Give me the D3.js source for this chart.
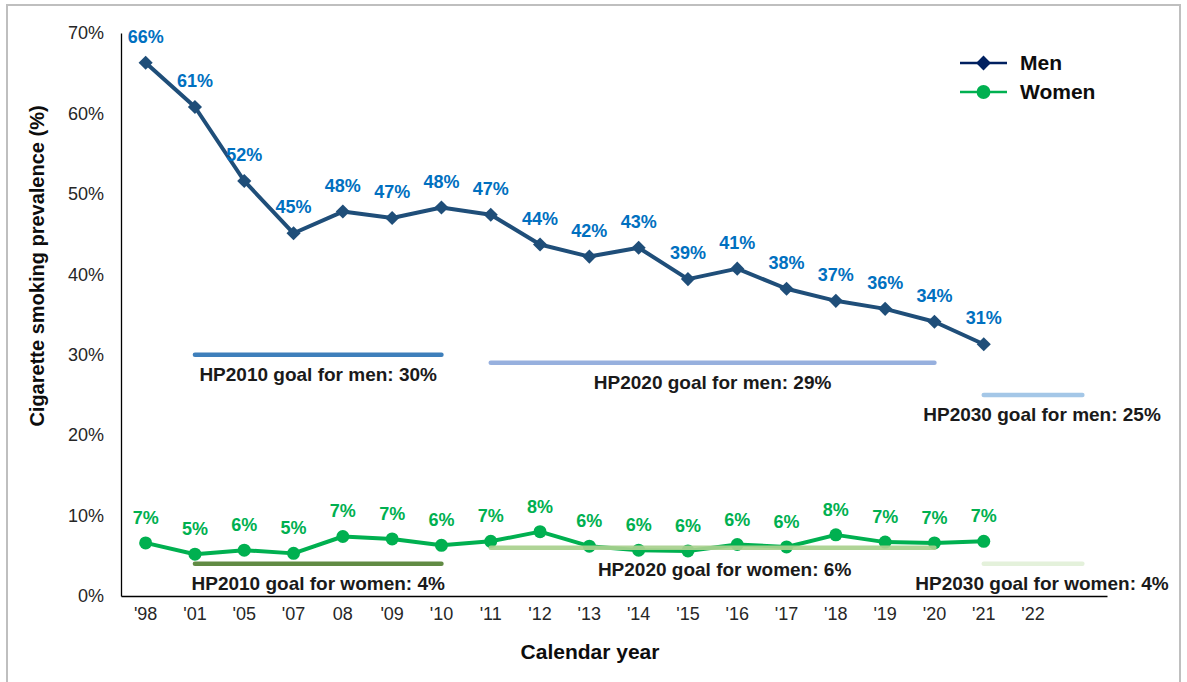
<!DOCTYPE html>
<html>
<head>
<meta charset="utf-8">
<script src="https://cdn.jsdelivr.net/npm/d3@7"></script>
<style>
  body { margin: 0; background: #fff; }
  text { font-family: "Liberation Sans", Arial, sans-serif; }
</style>
</head>
<body>
<div id="chart"></div>
<script>
// categories (last slot is an empty spare year on the axis)
var years = ["'98", "'01", "'05", "'07", "08", "'09", "'10", "'11", "'12", "'13",
             "'14", "'15", "'16", "'17", "'18", "'19", "'20", "'21", "'22", ""];

// prevalence, percent
var menValues = [66.3, 60.8, 51.6, 45.1, 47.8, 47.0, 48.3, 47.4, 43.7, 42.2,
                 43.3, 39.4, 40.7, 38.2, 36.7, 35.7, 34.1, 31.3];
var womenValues = [6.6, 5.2, 5.7, 5.3, 7.4, 7.1, 6.3, 6.8, 8.0, 6.2,
                   5.7, 5.6, 6.4, 6.1, 7.6, 6.7, 6.6, 6.8];

// Healthy People goals
var goalLabels = ["HP2010 goal for men: 30%", "HP2020 goal for men: 29%", "HP2030 goal for men: 25%",
                  "HP2010 goal for women: 4%", "HP2020 goal for women: 6%", "HP2030 goal for women: 4%"];
var goalValues = [30, 29, 25, 4, 6, 4];
var goalFrom = ["'01", "'11", "'21", "'01", "'11", "'21"];
var goalTo   = ["'10", "'20", "", "'10", "'20", ""];
var goalColors = ["#2E75B6", "#8FAADC", "#9DC3E6", "#548235", "#A9D18E", "#E2F0D9"];

var yTicks = [0, 10, 20, 30, 40, 50, 60, 70];

var width = 1187, height = 682;
var plotLeft = 121, plotRight = 1107, plotTop = 33, plotBottom = 596;

var svg = d3.select("#chart").append("svg")
    .attr("width", width)
    .attr("height", height);

// outer frame
svg.append("rect")
    .attr("x", 7).attr("y", 5)
    .attr("width", 1173).attr("height", 680)
    .attr("fill", "none")
    .attr("stroke", "#BFBFBF")
    .attr("stroke-width", 2);

var x = d3.scaleBand().domain(years).range([plotLeft, plotRight]);
var xc = function(label) { return x(label) + x.bandwidth() / 2; };
var y = d3.scaleLinear().domain([0, 70]).range([plotBottom, plotTop]);

// axes
var yAxis = svg.append("g")
    .attr("transform", "translate(" + plotLeft + ",0)")
    .call(d3.axisLeft(y).tickValues(yTicks).tickSize(0).tickPadding(17)
      .tickFormat(function(d) { return d + "%"; }));
yAxis.select(".domain").attr("stroke", "#000").attr("stroke-width", 1.3);
yAxis.selectAll("text").attr("font-size", 18).attr("fill", "#262626")
    .style("font-family", "Liberation Sans, Arial, sans-serif");

var xAxis = svg.append("g")
    .attr("transform", "translate(0," + plotBottom + ")")
    .call(d3.axisBottom(x).tickSize(0).tickPadding(11));
xAxis.select(".domain").attr("stroke", "#000").attr("stroke-width", 1.3);
xAxis.selectAll("text").attr("font-size", 18).attr("fill", "#262626")
    .style("font-family", "Liberation Sans, Arial, sans-serif");

// axis titles
svg.append("text")
    .attr("x", (plotLeft + plotRight) / 2 - 24).attr("y", 659)
    .attr("text-anchor", "middle")
    .attr("font-size", 21).attr("font-weight", "bold").attr("fill", "#0d0d0d")
    .text("Calendar year");

svg.append("text")
    .attr("transform", "translate(44,266) rotate(-90)")
    .attr("text-anchor", "middle")
    .attr("font-size", 20).attr("font-weight", "bold").attr("fill", "#0d0d0d")
    .text("Cigarette smoking prevalence (%)");

// series lines
var men = menValues.map(function(v, i) { return {label: years[i], value: v}; });
var women = womenValues.map(function(v, i) { return {label: years[i], value: v}; });

var line = d3.line()
    .x(function(d) { return xc(d.label); })
    .y(function(d) { return y(d.value); });

svg.append("path").datum(men)
    .attr("d", line)
    .attr("fill", "none").attr("stroke", "#1F4E79")
    .attr("stroke-width", 4).attr("stroke-linejoin", "round");

svg.append("path").datum(women)
    .attr("d", line)
    .attr("fill", "none").attr("stroke", "#00B050")
    .attr("stroke-width", 4).attr("stroke-linejoin", "round");

svg.selectAll(".men-pt").data(men).enter().append("path")
    .attr("class", "men-pt")
    .attr("d", d3.symbol().type(d3.symbolSquare).size(100))
    .attr("transform", function(d) { return "translate(" + xc(d.label) + "," + y(d.value) + ") rotate(45)"; })
    .attr("fill", "#1F4E79");

svg.selectAll(".women-pt").data(women).enter().append("circle")
    .attr("class", "women-pt")
    .attr("cx", function(d) { return xc(d.label); })
    .attr("cy", function(d) { return y(d.value); })
    .attr("r", 6.5)
    .attr("fill", "#00B050");

// goal lines and labels (drawn on top, as in the source)
var goals = goalLabels.map(function(t, i) {
  return {text: t, value: goalValues[i], from: goalFrom[i], to: goalTo[i], color: goalColors[i]};
});

svg.selectAll(".goal").data(goals).enter().append("line")
    .attr("class", "goal")
    .attr("x1", function(d) { return xc(d.from); })
    .attr("x2", function(d) { return xc(d.to); })
    .attr("y1", function(d) { return y(d.value); })
    .attr("y2", function(d) { return y(d.value); })
    .attr("stroke", function(d) { return d.color; })
    .attr("stroke-width", 4.5)
    .attr("stroke-linecap", "round")
    .attr("opacity", 0.92);

svg.selectAll(".goal-label").data(goals).enter().append("text")
    .attr("class", "goal-label")
    .attr("x", function(d, i) {
      var mid = (xc(d.from) + xc(d.to)) / 2;
      if (d.to === "") return mid + 9;
      return i === 4 ? mid + 12 : mid;
    })
    .attr("y", function(d, i) { return y(d.value) + (i === 4 ? 28 : 26); })
    .attr("text-anchor", "middle")
    .attr("font-size", 19).attr("font-weight", "bold").attr("fill", "#1a1a1a")
    .text(function(d) { return d.text; });

// data labels
svg.selectAll(".men-lbl").data(men).enter().append("text")
    .attr("class", "men-lbl")
    .attr("x", function(d) { return xc(d.label); })
    .attr("y", function(d) { return y(d.value) - 20; })
    .attr("text-anchor", "middle")
    .attr("font-size", 18).attr("font-weight", "bold").attr("fill", "#0070C0")
    .text(function(d) { return Math.round(d.value) + "%"; });

svg.selectAll(".women-lbl").data(women).enter().append("text")
    .attr("class", "women-lbl")
    .attr("x", function(d) { return xc(d.label); })
    .attr("y", function(d) { return y(d.value) - 19; })
    .attr("text-anchor", "middle")
    .attr("font-size", 18).attr("font-weight", "bold").attr("fill", "#00B050")
    .text(function(d) { return Math.round(d.value) + "%"; });

// legend
var legend = [
  {name: "Men", color: "#002060", marker: "diamond"},
  {name: "Women", color: "#00B050", marker: "circle"}
];
var lg = svg.selectAll(".legend").data(legend).enter().append("g")
    .attr("class", "legend")
    .attr("transform", function(d, i) { return "translate(960," + (63 + i * 29) + ")"; });
lg.append("line")
    .attr("x1", 0).attr("x2", 47)
    .attr("stroke", function(d) { return d.color; })
    .attr("stroke-width", 2.5);
lg.append("path")
    .attr("d", function(d) {
      return d.marker === "diamond"
        ? d3.symbol().type(d3.symbolSquare).size(110)()
        : d3.symbol().type(d3.symbolCircle).size(150)();
    })
    .attr("transform", function(d) { return "translate(23.5,0)" + (d.marker === "diamond" ? " rotate(45)" : ""); })
    .attr("fill", function(d) { return d.color; });
lg.append("text")
    .attr("x", 60).attr("y", 7)
    .attr("font-size", 21).attr("font-weight", "bold").attr("fill", "#0d0d0d")
    .text(function(d) { return d.name; });
</script>
</body>
</html>
